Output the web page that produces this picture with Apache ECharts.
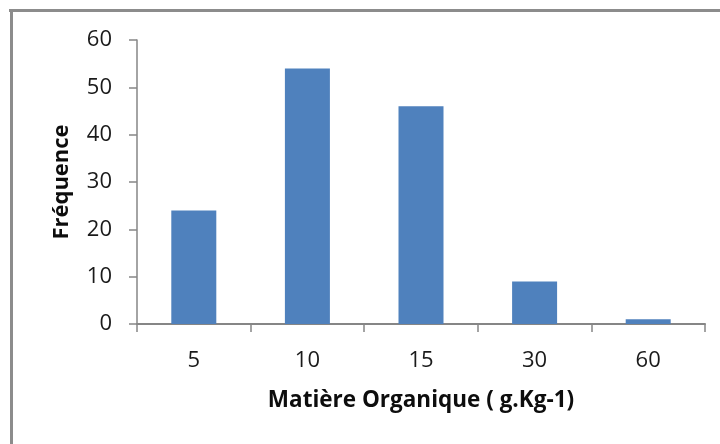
<!DOCTYPE html>
<html>
<head>
<meta charset="utf-8">
<script src="https://cdn.jsdelivr.net/npm/echarts@6/dist/echarts.min.js"></script>
<style>
  html, body { margin: 0; padding: 0; background: #fff; }
  #chart { width: 720px; height: 444px; }
</style>
</head>
<body>
<div id="chart"></div>
<script>
// Classes de matière organique et fréquences observées
const categories = ['5', '10', '15', '30', '60'];
const frequences = [24, 54, 46, 9, 1];
const yTicks = { min: 0, max: 60, interval: 10 };

const axisGray = '#868686';
const textFont = '"Open Sans", "Liberation Sans", sans-serif';

const chart = echarts.init(document.getElementById('chart'), null, { renderer: 'canvas' });
chart.setOption({
  animation: false,
  backgroundColor: '#ffffff',
  graphic: [
    // cadre gris (haut et gauche)
    { type: 'rect', shape: { x: 9, y: 9, width: 711, height: 3 }, style: { fill: '#8c8c8c' }, silent: true },
    { type: 'rect', shape: { x: 10, y: 9, width: 3, height: 435 }, style: { fill: '#8c8c8c' }, silent: true }
  ],
  grid: { left: 137, right: 15, top: 40, bottom: 120, containLabel: false },
  xAxis: {
    type: 'category',
    data: categories,
    boundaryGap: true,
    name: 'Matière Organique ( g.Kg-1)',
    nameLocation: 'middle',
    nameGap: 65,
    nameTextStyle: { fontFamily: textFont, fontSize: 22.5, fontWeight: 'bold', color: '#0d0d0d' },
    axisLine: { lineStyle: { color: axisGray, width: 2 } },
    axisTick: { show: true, length: 8, alignWithLabel: false, lineStyle: { color: axisGray, width: 1.5 } },
    axisLabel: { margin: 26, fontFamily: textFont, fontSize: 22, color: '#1a1a1a' }
  },
  yAxis: {
    type: 'value',
    min: yTicks.min,
    max: yTicks.max,
    interval: yTicks.interval,
    name: 'Fréquence',
    nameLocation: 'middle',
    nameGap: 64,
    nameRotate: 90,
    nameTextStyle: { fontFamily: textFont, fontSize: 22, fontWeight: 'bold', color: '#0d0d0d' },
    splitLine: { show: false },
    axisLine: { show: true, lineStyle: { color: axisGray, width: 1.5 } },
    axisTick: { show: true, length: 8, lineStyle: { color: axisGray, width: 1.5 } },
    axisLabel: { margin: 25, fontFamily: textFont, fontSize: 22, color: '#1a1a1a' }
  },
  series: [{
    type: 'bar',
    data: frequences,
    barWidth: 45,
    itemStyle: { color: '#4F81BD' }
  }]
});
</script>
</body>
</html>
